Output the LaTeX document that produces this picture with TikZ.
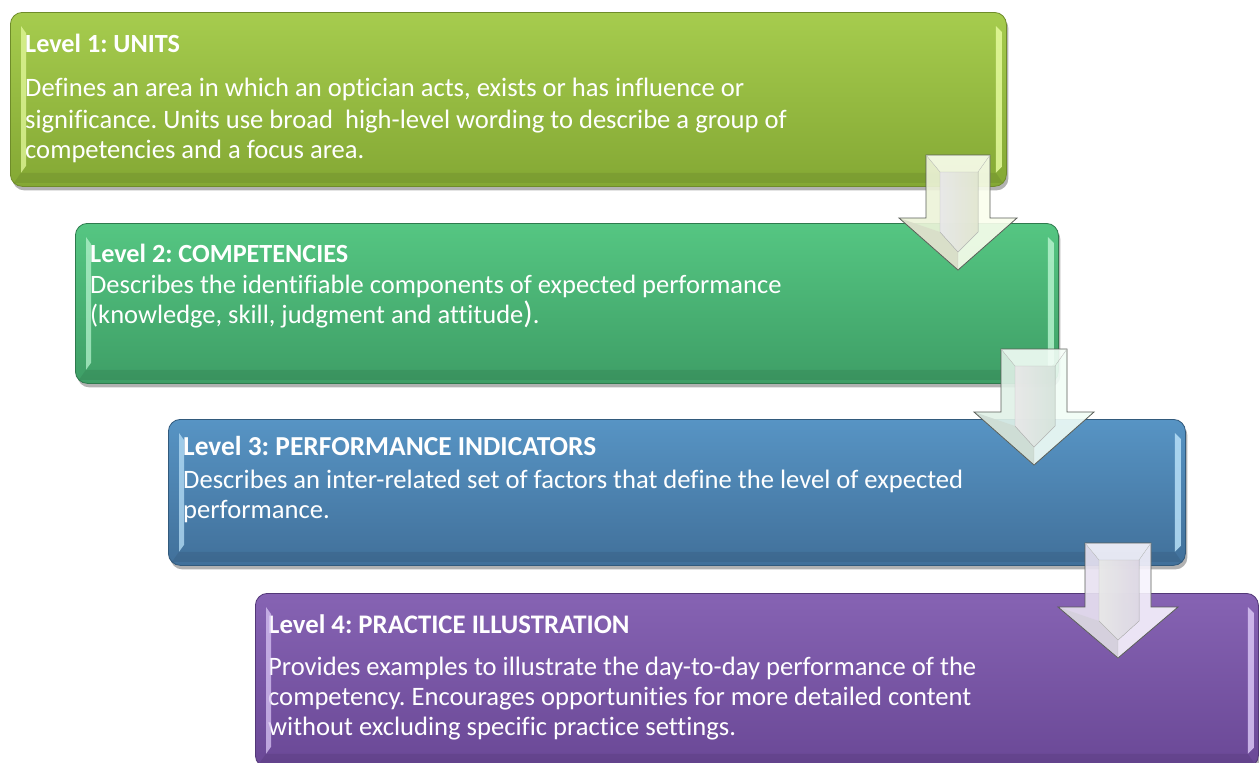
\documentclass[tikz,border=0pt]{standalone}
\usepackage{fontspec}
\setmainfont{Carlito}[Ligatures={NoCommon}]
\usetikzlibrary{shadows,calc}
\frenchspacing

% palette of the four level boxes
\definecolor{uTop}{HTML}{A6CC4E}\definecolor{uBot}{HTML}{84A834}\definecolor{uLine}{HTML}{6F8C2A}\definecolor{uLight}{HTML}{E4FA9C}
\definecolor{cTop}{HTML}{55C682}\definecolor{cBot}{HTML}{3E9E66}\definecolor{cLine}{HTML}{2F7A4E}\definecolor{cLight}{HTML}{B4F2CC}
\definecolor{pTop}{HTML}{5794C4}\definecolor{pBot}{HTML}{41709A}\definecolor{pLine}{HTML}{325A7C}\definecolor{pLight}{HTML}{B8E0F8}
\definecolor{iTop}{HTML}{8663B3}\definecolor{iBot}{HTML}{6A4896}\definecolor{iLine}{HTML}{533878}\definecolor{iLight}{HTML}{D8C4F4}
\definecolor{arrLine}{HTML}{5A5E58}

\tikzset{
  lvlbox/.style={draw=#1, line width=0.8pt, rounded corners=12pt, anchor=north west,
    inner sep=0pt, drop shadow={shadow xshift=2pt, shadow yshift=-4pt, opacity=0.3, fill=black}},
  ttl/.style={anchor=base west, inner sep=0pt, text=white, font=\bfseries\fontsize{#1}{#1}\selectfont},
  txt/.style={anchor=base west, inner sep=0pt, text=white, font=\fontsize{#1}{#1}\selectfont},
  facet/.style={fill=#1, fill opacity=0.9, draw=none},
}

% level box: name, x, y, width, height, top colour, bottom colour, outline
\newcommand\levelbox[8]{%
  \node[lvlbox=#8, minimum width=#4pt, minimum height=#5pt, top color=#6, bottom color=#7] (#1) at (#2,#3) {};
}
% bevel highlights of a level box: name, light colour
\newcommand\boxbevel[2]{%
  \fill[#2, opacity=0.75] ($(#1.north west)+(11,14)$) -- ($(#1.north west)+(16,21)$)
     -- ($(#1.south west)+(16,-21)$) -- ($(#1.south west)+(11,-14)$) -- cycle;
  \fill[#2, opacity=0.85] ($(#1.north east)+(-11,14)$) -- ($(#1.north east)+(-5,20)$)
     -- ($(#1.south east)+(-5,-20)$) -- ($(#1.south east)+(-11,-14)$) -- cycle;
  \fill[black, opacity=0.07] ($(#1.south west)+(11,-14)$) -- ($(#1.south east)+(-11,-14)$)
     -- ($(#1.south east)+(-4,-4)$) -- ($(#1.south west)+(4,-4)$) -- cycle;
}
% bevelled block arrow: name, centre x, top y, shaft half width, head y, head half width, tip y, tint
\newcommand\blockarrow[8]{%
  \coordinate (#1A) at ({#2-#4},#3);  \coordinate (#1B) at ({#2+#4},#3);
  \coordinate (#1C) at ({#2+#4},#5);  \coordinate (#1D) at ({#2+#6},#5);
  \coordinate (#1T) at (#2,#7);       \coordinate (#1E) at ({#2-#6},#5);
  \coordinate (#1F) at ({#2-#4},#5);
  \coordinate (#1a) at ({#2-#4+14},{#3+17}); \coordinate (#1b) at ({#2+#4-12},{#3+17});
  \coordinate (#1c) at ({#2+#4-12},{#5+14}); \coordinate (#1t) at (#2,{#7-18});
  \coordinate (#1f) at ({#2-#4+14},{#5+14});
  \fill[facet=#8!92!gray] (#1A) -- (#1a) -- (#1f) -- (#1t) -- (#1T) -- (#1E) -- (#1F) -- cycle;
  \fill[facet=#8!75!gray] (#1f) -- (#1t) -- (#1T) -- (#1E) -- cycle;
  \fill[facet=#8!60!white] (#1B) -- (#1b) -- (#1c) -- (#1t) -- (#1T) -- (#1D) -- (#1C) -- cycle;
  \fill[facet=#8!50!white] (#1A) -- (#1B) -- (#1b) -- (#1a) -- cycle;
  \fill[left color=white, right color=#8!85!white, fill opacity=0.9]
       (#1a) -- (#1b) -- (#1c) -- (#1t) -- (#1f) -- cycle;
  \draw[arrLine, line width=0.8pt, line join=miter]
       (#1A) -- (#1B) -- (#1C) -- (#1D) -- (#1T) -- (#1E) -- (#1F) -- cycle;
  \draw[arrLine!40, line width=0.4pt] (#1A) -- (#1a) (#1B) -- (#1b) (#1T) -- (#1t)
       (#1a) -- (#1b) -- (#1c) -- (#1t) -- (#1f) -- cycle;
}

\begin{document}
\begin{tikzpicture}[x=1pt, y=-1pt]
\useasboundingbox[fill=white] (0,0) rectangle (1259,763);

% the four levels, stepping down to the right
\levelbox{units}{10}{12}{996}{174}{uTop}{uBot}{uLine}
\levelbox{comp}{75}{223}{983}{160}{cTop}{cBot}{cLine}
\levelbox{perf}{168}{419}{1017}{146}{pTop}{pBot}{pLine}
\levelbox{illu}{255}{593}{1003}{174}{iTop}{iBot}{iLine}

% level 1
\node[txt=26.6] (u1) at (25,96) {Defines an area in which an optician acts, exists or has influence or};
\node[txt=26.6] (u2) at (25,128) {significance. Units use broad\ \ high-level wording to describe a group of};
\node[txt=26.6] (u3) at (25,158) {competencies and a focus area.};
\node[ttl=26.2] (ut) at (25,52) {Level 1: UNITS};

% level 2
\node[ttl=26.2] (ct) at (90,262) {Level 2: COMPETENCIES};
\node[txt=26.5] (c1) at (90,293) {Describes the identifiable components of expected performance};
\node[txt=26.5] (c2) at (90,323) {(knowledge, skill, judgment and attitude{\fontsize{31}{31}\selectfont)}.};

% level 3
\node[ttl=27.4] (pt) at (183,455) {Level 3: PERFORMANCE INDICATORS};
\node[txt=26.6] (p1) at (183,488) {Describes an inter-related set of factors that define the level of expected};
\node[txt=26.6] (p2) at (183,518) {performance.};

% level 4
\node[ttl=26.8] (it) at (268,633) {Level 4: PRACTICE ILLUSTRATION};
\node[txt=26.6] (i1) at (268,675) {Provides examples to illustrate the day-to-day performance of the};
\node[txt=26.6] (i2) at (268,705) {competency. Encourages opportunities for more detailed content};
\node[txt=26.6] (i3) at (268,735) {without excluding specific practice settings.};

\boxbevel{units}{uLight}
\boxbevel{comp}{cLight}
\boxbevel{perf}{pLight}
\boxbevel{illu}{iLight}

% arrows leading from one level to the next
\blockarrow{ar1}{958}{155}{32}{218}{59}{270}{uLight!30!white}
\blockarrow{ar2}{1034}{349}{33}{412}{60}{465}{cLight!30!white}
\blockarrow{ar3}{1118}{543}{33}{607}{60}{658}{iLight!35!white}
\end{tikzpicture}
\end{document}
